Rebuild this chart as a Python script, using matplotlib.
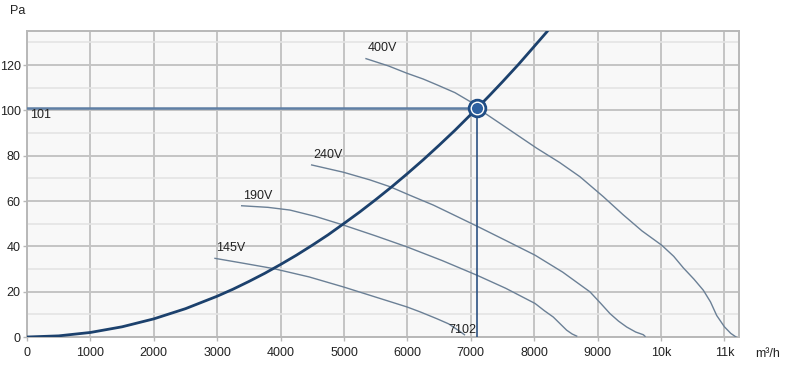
import matplotlib
matplotlib.use("Agg")
import matplotlib.pyplot as plt
from matplotlib.ticker import MultipleLocator, FixedLocator

# ---- data ----
sys_q = [0, 500, 1000, 1500, 2000, 2500, 3000, 3250, 3500, 3750, 4000, 4250, 4500, 4750, 5000, 5250, 5500, 5750,
         6000, 6250, 6500, 6750, 7102, 7300, 7500, 7750, 8000, 8211]
sys_p = [0, 0.5, 2.0, 4.5, 8.0, 12.5, 18.0, 21.1, 24.5, 28.1, 32.0, 36.1, 40.5, 45.1, 50.1, 55.2, 60.6, 66.2,
         72.1, 78.2, 84.6, 91.2, 101, 106.7, 112.6, 120.2, 128.2, 135]

q400 = [5347, 5700, 5989, 6250, 6462, 6750, 6987, 7102, 7500, 8039, 8400, 8722, 9090, 9400, 9700, 10011, 10200, 10352, 10520, 10668, 10780, 10878, 11000, 11100, 11183]
p400 = [122.8, 119.6, 116.4, 113.8, 111.3, 107.8, 103.9, 101.0, 93.5, 83.3, 77.0, 70.7, 61.9, 54.0, 46.8, 40.5, 35.6, 30.5, 25.5, 20.6, 15.5, 9.5, 4.5, 1.6, 0.0]

q240 = [4490, 4989, 5410, 5726, 6050, 6409, 6750, 7119, 7550, 8013, 8450, 8880, 9050, 9196, 9330, 9459, 9600, 9721, 9748]
p240 = [75.9, 72.7, 69.3, 66.3, 62.4, 58.2, 53.6, 48.6, 42.6, 36.1, 28.6, 19.9, 14.8, 10.3, 7.0, 4.4, 2.2, 1.0, 0.3]

q190 = [3386, 3800, 4148, 4550, 4989, 5500, 5989, 6550, 7093, 7550, 8013, 8160, 8301, 8410, 8512, 8600, 8670]
p190 = [57.9, 57.2, 56.0, 53.2, 49.4, 44.6, 39.8, 33.7, 27.3, 21.5, 14.8, 11.6, 8.8, 5.8, 3.0, 1.3, 0.4]

q145 = [2965, 3400, 3885, 4450, 4989, 5500, 5989, 6199, 6462, 6650, 6800, 6900]
p145 = [34.7, 32.6, 30.2, 26.5, 22.1, 17.6, 13.3, 11.1, 8.1, 5.8, 3.0, 1.0]

curve_labels = ["400V", "240V", "190V", "145V"]
op_q = 7102
op_p = 101
x_ticks = [0, 1000, 2000, 3000, 4000, 5000, 6000, 7000, 8000, 9000, 10000, 11000]
x_tick_labels = ["0", "1000", "2000", "3000", "4000", "5000", "6000", "7000", "8000", "9000", "10k", "11k"]
y_ticks = [0, 20, 40, 60, 80, 100, 120]

# ---- styling ----
plt.rcParams['font.family'] = ['Liberation Sans', 'DejaVu Sans']
FS = 9
fig = plt.figure(figsize=(7.87, 3.68), dpi=100)
ax = fig.add_axes([27/787, 1 - 337/368, (739 - 27)/787, (337 - 31)/368])
ax.set_facecolor('#f8f8f8')
ax.set_xlim(0, 11230)
ax.set_ylim(0, 135)

ax.yaxis.set_major_locator(FixedLocator(y_ticks))
ax.yaxis.set_minor_locator(MultipleLocator(10))
ax.xaxis.set_major_locator(FixedLocator(x_ticks))
ax.set_xticklabels(x_tick_labels)
ax.grid(which='major', color='#c4c4c4', linewidth=1.4, zorder=0)
ax.grid(which='minor', axis='y', color='#e4e4e4', linewidth=1.2, zorder=0)
ax.set_axisbelow(True)
for s in ax.spines.values():
    s.set_color('#b8b8b8')
    s.set_linewidth(1.4)
ax.tick_params(axis='both', which='major', length=3, width=1, color='#b8b8b8',
               labelsize=FS, labelcolor='#222222')
ax.tick_params(axis='y', which='major', pad=1.5)
ax.tick_params(axis='x', which='major', pad=4)
ax.tick_params(axis='y', which='minor', length=0)

curve_color = '#6b8096'
for q, p, lab in zip([q400, q240, q190, q145], [p400, p240, p190, p145], curve_labels):
    ax.plot(q, p, color=curve_color, linewidth=1.0, zorder=3, solid_joinstyle='round')
    ax.annotate(lab, xy=(q[0], p[0]), xytext=(1, 3), textcoords='offset points',
                ha='left', va='bottom', fontsize=FS, color='#222222', zorder=5)

# system curve
ax.plot(sys_q, sys_p, color='#1c416d', linewidth=2.0, zorder=4, solid_capstyle='round',
        solid_joinstyle='round')

# operating point guide lines
ax.plot([0, op_q], [op_p, op_p], color='#5f7fa5', linewidth=1.8, zorder=4)
ax.plot([op_q, op_q], [0, op_p], color='#2c5283', linewidth=1.2, zorder=4)
ax.plot([op_q], [op_p], marker='o', markersize=13, color='#1f4d85', zorder=6)
ax.plot([op_q], [op_p], marker='o', markersize=9, markerfacecolor='#2d60a0',
        markeredgecolor='white', markeredgewidth=1.0, zorder=7)

ax.annotate(str(op_p), xy=(0, op_p), xytext=(2, -1), textcoords='offset points',
            ha='left', va='top', fontsize=FS, color='#222222', zorder=5)
ax.annotate(str(op_q), xy=(op_q, 0), xytext=(-1, 1), textcoords='offset points',
            ha='right', va='bottom', fontsize=FS, color='#222222', zorder=5)

fig.text(10/787, 1 - 11/368, 'Pa', ha='left', va='center', fontsize=FS, color='#222222')
fig.text(768/787, 1 - 354/368, 'm³/h', ha='center', va='center', fontsize=FS, color='#222222')

fig.savefig('out.png', dpi=100)
